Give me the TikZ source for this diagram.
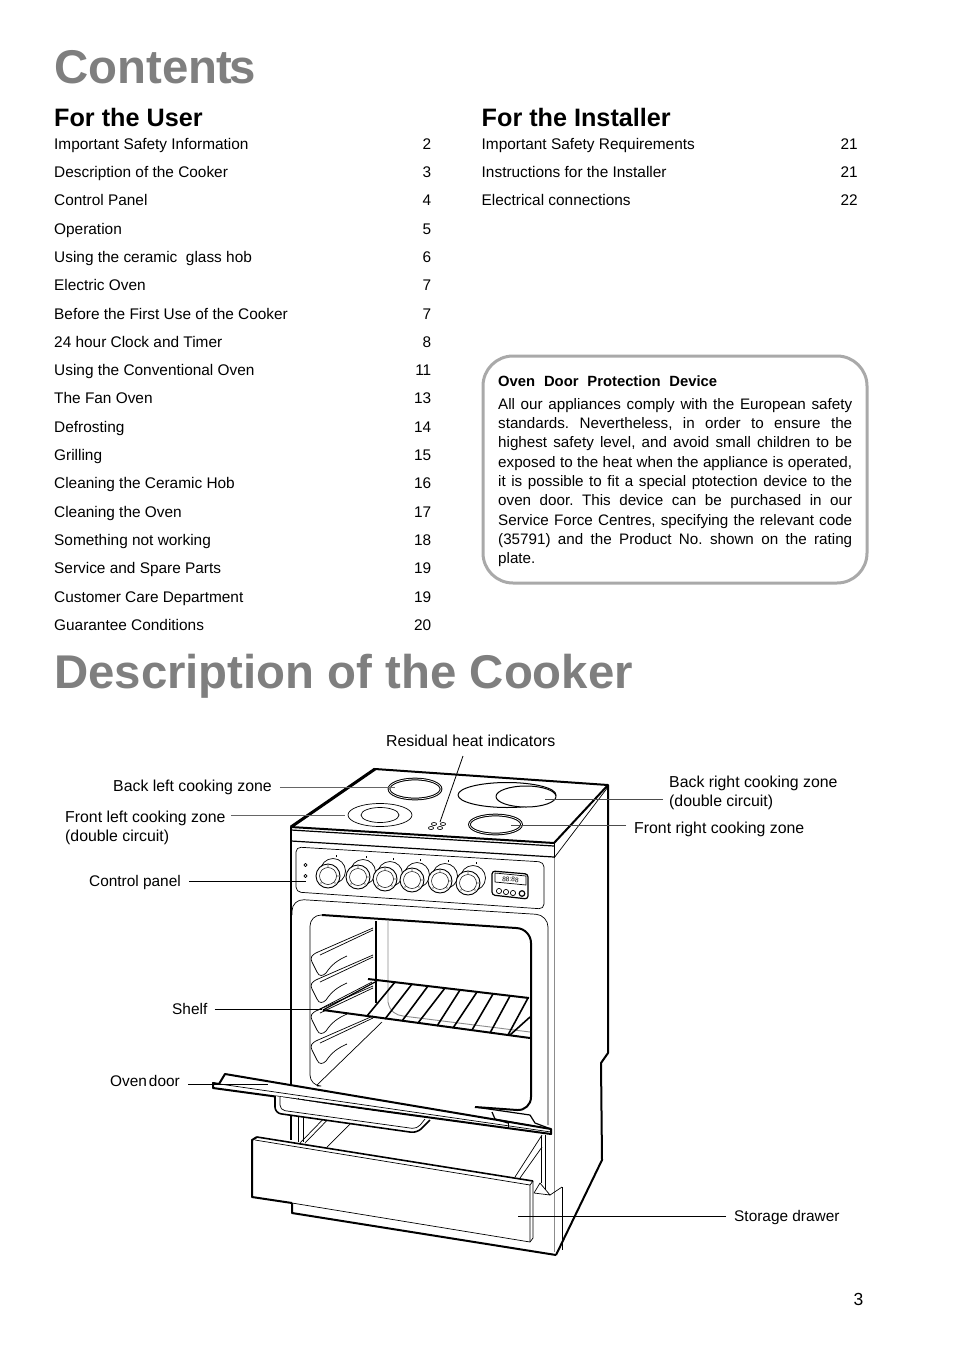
\documentclass[tikz,border=0pt]{standalone}
\usepackage{fontspec}
\setmainfont{Liberation Sans}
\frenchspacing
\begin{document}
\begin{tikzpicture}[x=1pt,y=-1pt,line join=round,
  entry/.style={anchor=base west,inner sep=0pt,font=\fontsize{15.4}{18}\selectfont},
  pageno/.style={anchor=base east,inner sep=0pt,font=\fontsize{15.4}{18}\selectfont},
  title/.style={anchor=base west,inner sep=0pt,text=headgray,font=\fontsize{47.35}{50}\selectfont\bfseries},
  subhead/.style={anchor=base west,inner sep=0pt,font=\fontsize{25.2}{28}\selectfont\bfseries},
  boxline/.style={anchor=base west,inner sep=0pt,font=\fontsize{15.2}{18}\selectfont},
  callout/.style={anchor=west,inner sep=0pt,align=left,font=\fontsize{15.4}{18.4}\selectfont},
  zonelabel/.style={callout,font=\fontsize{15.85}{18.4}\selectfont},
  leader/.style={line width=0.8pt,black},
  heavy/.style={line width=2pt,black},
  medium/.style={line width=1.2pt,black},
  bar/.style={line width=1.6pt,black},
  thin1/.style={line width=0.7pt,black},
  greyline/.style={line width=0.9pt,black!45},
  ]
\definecolor{headgray}{HTML}{7F7F7F}
\definecolor{boxgray}{HTML}{A9A9A9}
\useasboundingbox (0,0) rectangle (954,1351);
\fill[white] (0,0) rectangle (954,1351);

% ---- headings
\node[title] (contents) at (54,84) {Conten\kern-1pt t\kern-3pt s};
\node[title] (desc) at (54,688) {Description of the Cooker};
\node[subhead] (foruser) at (54,127) {For the User};
\node[subhead] (forinst) at (481.5,127) {For the Installer};

% ---- user list
\foreach \yy/\txt/\pg [count=\i] in {
 144/Important Safety Information/2,
 172/Description of the Cooker/3,
 200/Control Panel/4,
 229/Operation/5,
 257/Using the ceramic\ \ glass hob/6,
 285/Electric Oven/7,
 314/Before the First Use of the Cooker/7,
 342/24 hour Clock and Timer/8,
 370/Using the Conventional Oven/11,
 398/The Fan Oven/13,
 427/Defrosting/14,
 455/Grilling/15,
 483/Cleaning the Ceramic Hob/16,
 512/Cleaning the Oven/17,
 540/Something not working/18,
 568/Service and Spare Parts/19,
 597/Customer Care Department/19,
 625/Guarantee Conditions/20}{
  \node[entry] (u\i) at (54,\yy+5.5) {\txt};
  \node[pageno] (up\i) at (431.5,\yy+5.5) {\pg};
}
\foreach \yy/\txt/\pg [count=\i] in {
 144/Important Safety Requirements/21,
 172/Instructions for the Installer/21,
 200/Electrical connections/22}{
  \node[entry] (r\i) at (481.5,\yy+5.5) {\txt};
  \node[pageno] (rp\i) at (858,\yy+5.5) {\pg};
}

% ---- info box
\draw[boxgray,line width=3pt,rounded corners=30pt] (483,356) rectangle (867,583);
\node[boxline,font=\fontsize{14.8}{18}\selectfont\bfseries] (boxhead) at (498,386) {\makebox[219pt][s]{Oven Door Protection Device}};
\foreach \yy/\txt [count=\i] in {
 409/All our appliances comply with the European safety,
 428.5/standards. Nevertheless{,} in order to ensure the,
 447.5/highest safety level{,} and avoid small children to be,
 467/exposed to the heat when the appliance is operated{,},
 486/it is possible to fit a special ptotection device to the,
 505.5/oven door. This device can be purchased in our,
 525/Service Force Centres{,} specifying the relevant code,
 544/(35791) and the Product No. shown on the rating}{
  \node[boxline] (b\i) at (498,\yy) {\makebox[354pt][s]{\txt}};
}
\node[boxline] (b9) at (498,563) {plate.};

% ---- cooker: body
\draw[heavy,fill=white] (291,827) -- (375,769) -- (608,785) -- (554,843) -- cycle;
\draw[line width=3pt] (291,827) -- (375,769);
\draw[heavy] (291,827) -- (291,842);
\draw[medium] (291,830) -- (554,846);
\draw[medium] (291,841) -- (554,857);
\draw[thin1] (554,843) -- (554,858);
\draw[thin1] (554,843) -- (608,785);
\draw[thin1] (554,858) -- (608,787);
\draw[heavy] (291,842) -- (291,1140);
\draw[heavy] (608,785) -- (608,1053) -- (601,1063) -- (602,1160) -- (556,1255);
\draw[greyline] (554,858) -- (554,1252);
\draw[thin1] (562,1187) -- (562,1250);

% hob zones
\draw[line width=1pt,double=white,double distance=0.7pt] (415,789) ellipse [x radius=26,y radius=10];
\draw[thin1] (380,815) ellipse [x radius=32,y radius=11.5];
\draw[thin1] (380,815) ellipse [x radius=19,y radius=7.5];
\draw[line width=1pt] (507,795) ellipse [x radius=49,y radius=12.5];
\draw[line width=1pt,fill=white] (526,796.5) ellipse [x radius=30,y radius=10.5];
\draw[line width=1pt,double=white,double distance=0.7pt] (495.5,824.5) ellipse [x radius=26,y radius=9.5];
\foreach \cx/\cy in {434/824, 443/824, 431/828, 440/828}
  \draw[thin1] (\cx,\cy) ellipse [x radius=2.6,y radius=1.5];

% control panel
\draw[thin1,rounded corners=5pt] (296,847) -- (544,862) -- (544,909) -- (296,892) -- cycle;
\foreach \cx/\cy in {305.5/865, 305.5/876}
  \draw[thin1] (\cx,\cy) circle [radius=1.6];
\foreach \cx/\cy in {328/876, 358/877, 385/879, 412/880, 440/881, 468/883}{
  \draw[thin1,fill=white] (\cx+5,\cy-5) circle [radius=12.5];
  \draw[line width=0.9pt,fill=white] (\cx,\cy) circle [radius=12];
  \draw[line width=0.5pt] (\cx,\cy) circle [radius=8.5];
  \draw[thin1] (\cx+8,\cy-21) -- (\cx+8,\cy-19);
  \fill (\cx,\cy-10) circle [radius=0.6];
  \fill (\cx+10,\cy) circle [radius=0.6];
  \fill (\cx-7,\cy+7) circle [radius=0.6];
  \fill (\cx+7,\cy+7) circle [radius=0.6];
}
% timer
\draw[medium,rounded corners=3pt] (492,871) -- (528,874) -- (528,899) -- (492,895) -- cycle;
\draw[thin1] (495,873) -- (526,876) -- (526,885) -- (495,882) -- cycle;
\node[inner sep=0pt,rotate=-5,font=\fontsize{6.6}{7}\selectfont] (digits) at (510.5,879.5) {88:88};
\foreach \cx/\cy in {499/891, 506/892, 513/893}
  \draw[thin1] (\cx,\cy) circle [radius=2.6];
\draw[medium] (522,893.5) circle [radius=2.8];

% oven surround
\draw[thin1,rounded corners=12pt] (292,915) -- (292,899) -- (548,915) -- (548,1125);
% cavity
\draw[thin1,rounded corners=11pt] (317,1086) -- (310,1086) -- (310,915) -- (322,915);
\draw[heavy,rounded corners=14pt] (322,915) -- (531,929) -- (531,1111) -- (475,1107);
\draw[thin1] (317,1085) -- (382,1022);
\draw[medium] (376,921) -- (376,1003);
\draw[greyline] (388,921) -- (388,1002) .. controls (390,1012) and (396,1015) .. (403,1016) -- (530,1032);

% side runners
\foreach \d in {0,27,58,88}{
  \begin{scope}[shift={(0,\d)}]
    \draw[thin1,fill=white] (373,928) -- (318,952) .. controls (311,955) and (310,958) .. (312,962)
       -- (317,972) .. controls (319,977) and (323,976) .. (326,973)
       .. controls (332,964) and (338,960) .. (347,956);
    \draw[thin1] (373,930) -- (320,955);
  \end{scope}
}

% shelf
\draw[medium] (377,981) -- (323,1010);
\draw[thin1] (372,982) -- (318,1010);
\foreach \xa/\ya/\xb/\yb in {395/982/367/1016,412/984/385/1019,428/986/402/1021,445/988/418/1023,460/990/437/1026,477/992/453/1028,493/994/472/1030,510/996/490/1033,528/998/508/1035}{
  \draw[bar] (\xa,\ya) -- (\xb,\yb);
}
\draw[bar] (510,1035) -- (530,1017);
\draw[heavy] (368,979) -- (529,998);
\draw[heavy] (323,1010) -- (530,1038);

% door
\draw[heavy,fill=white] (225,1074) -- (551,1129) -- (551,1134) -- (213,1088) -- (213,1083) -- (219,1084) -- cycle;
\draw[thin1] (213,1083) -- (551,1132);
\draw[medium] (492,1112) -- (495,1119) -- (508,1123) (530,1115) -- (535,1123) -- (551,1129);
\draw[medium] (475,1107) -- (530,1115);
\draw[thin1] (495,1119) -- (551,1129);
\draw[thin1] (508,1123) -- (508,1128);

% under the door
\draw[thin1] (298,1098) -- (298,1142) (303,1099) -- (303,1142);
\draw[thin1] (300,1143) -- (335,1107) (305,1143) -- (340,1107) (327,1147) -- (363,1111);
\draw[line width=1.6pt,fill=white,rounded corners=6pt] (275,1096) -- (275,1113) -- (417,1133) -- (430,1120);
\draw[thin1,rounded corners=5pt] (280,1097) -- (280,1110) -- (417,1129) -- (425,1119);
\draw[thin1] (515,1177) -- (542,1135) (520,1178) -- (542,1147);
\draw[thin1] (541,1136) -- (541,1183) (545,1135) -- (545,1190);
\draw[thin1] (534,1193) -- (540,1183) -- (550,1195) -- cycle;
\draw[thin1] (550,1195) -- (562,1187);

% drawer
\fill[white] (252,1197) -- (252,1140) -- (257,1137) -- (533,1181) -- (533,1238) -- (530,1242) -- (292,1203) -- cycle;
\draw[heavy] (292,1203) -- (252,1197) -- (252,1140) -- (257,1137);
\draw[bar] (257,1137) -- (533,1181);
\draw[thin1] (533,1181) -- (533,1238) -- (530,1242) -- (292,1203);
\draw[thin1] (255,1140) -- (530,1185) -- (530,1242);
\draw[thin1] (530,1185) -- (533,1181);
\draw[heavy] (292,1203) -- (292,1213) -- (556,1255);

% ---- callouts
\node[zonelabel] (backleft) at (113,787) {Back left cooking zone};
\node[zonelabel] (frontleft) at (65,828) {Front left cooking zone\\(double circuit)};
\node[callout] (panel) at (89,883) {Control panel};
\node[callout] (shelf) at (172,1009) {Shelf};
\node[callout] (door) at (110,1081) {Oven\kern2pt door};
\node[zonelabel] (residual) at (386,741) {Residual heat indicators};
\node[zonelabel] (backright) at (669,793) {Back right cooking zone\\(double circuit)};
\node[zonelabel] (frontright) at (634,829) {Front right cooking zone};
\node[callout] (storage) at (734,1218) {Storage drawer};
\node[entry,font=\fontsize{17.5}{20}\selectfont] (pagenum) at (853.5,1305) {3};

\coordinate (backleftE) at (395,787);
\coordinate (frontleftE) at (345,815);
\coordinate (panelE) at (306,881);
\coordinate (shelfE) at (322,1009);
\coordinate (doorE) at (268,1084);
\coordinate (residualE) at (440,822);
\coordinate (residualS) at (463,756);
\coordinate (backrightE) at (545,799);
\coordinate (frontrightE) at (511,825);
\coordinate (storageE) at (518,1216);

\draw[leader,black!60] ([xshift=8pt]backleft.east) -- (backleftE);
\draw[leader,black!60] ([shift={(5,-13)}]frontleft.east) -- (frontleftE);
\draw[leader] ([shift={(8,-2)}]panel.east) -- (panelE);
\draw[leader] ([xshift=7pt]shelf.east) -- (shelfE);
\draw[leader] ([shift={(8,3)}]door.east) -- (doorE);
\draw[leader] (residualS) -- (residualE);
\draw[leader,black!70] ([shift={(-6,6)}]backright.west) -- (backrightE);
\draw[leader,black!70] ([shift={(-8,-4)}]frontright.west) -- (frontrightE);
\draw[leader] ([shift={(-8,-2)}]storage.west) -- (storageE);
\end{tikzpicture}
\end{document}
